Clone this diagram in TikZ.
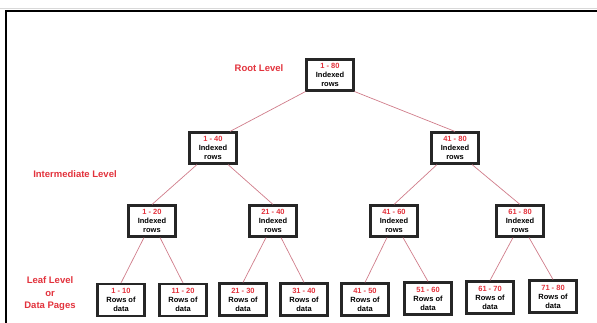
\documentclass[tikz,border=0pt]{standalone}
\usepackage{fontspec}
\setmainfont{Liberation Sans}
\definecolor{cred}{HTML}{E2323C}
\definecolor{clink}{HTML}{D07C8A}
\newcommand{\idxrows}[1]{\textcolor{cred}{#1}\\Indexed\\rows}
\newcommand{\datarows}[1]{\textcolor{cred}{#1}\\Rows of\\data}

\begin{document}
\begin{tikzpicture}[x=1pt, y=-1pt,
    box/.style={draw=black!85, line width=2.1pt, minimum width=47pt, minimum height=31pt,
        inner sep=0pt, align=center, font=\fontsize{7.5}{9}\selectfont\bfseries},
    leafbox/.style={box, minimum height=32pt},
    lvl/.style={text=cred, font=\fontsize{9.5}{12.5}\selectfont\bfseries, align=center},
    link/.style={draw=clink, line width=0.7pt},
]
\useasboundingbox (0,0) rectangle (597,323);

% Outer frame (runs off the right and bottom)
\draw[black!15, line width=0.5pt] (0,8) -- (597,8);
\draw[line width=2.4pt] (597,11) -- (6,11) -- (6,323);

% Level labels
\node[lvl] (lblroot) at (259,68) {Root Level};
\node[lvl] (lblmid) at (75,174) {Intermediate Level};
\node[lvl] (lblleaf) at (50,294) {Leaf Level\\or\\Data Pages};

% Root and intermediate nodes
\node[box] (root) at (330,75) {\idxrows{1 - 80}};
\node[box] (l1a) at (213,148) {\idxrows{1 - 40}};
\node[box] (l1b) at (455,148) {\idxrows{41 - 80}};
\node[box] (l2a) at (152,221) {\idxrows{1 - 20}};
\node[box] (l2b) at (273,221) {\idxrows{21 - 40}};
\node[box] (l2c) at (394,221) {\idxrows{41 - 60}};
\node[box] (l2d) at (520,221) {\idxrows{61 - 80}};

% Leaf nodes
\foreach \x/\y/\r [count=\i] in {121/300/1 - 10, 183/300/11 - 20, 243/299.5/21 - 30,
    304/299.5/31 - 40, 365/299.5/41 - 50, 428/298.5/51 - 60, 490/297.5/61 - 70,
    553/296.5/71 - 80} {
    \node[leafbox] (leaf\i) at (\x,\y) {\datarows{\r}};
}

% Links
\draw[link] (root.south west) -- ([xshift=17pt]l1a.north);
\draw[link] (root.south east) -- (l1b.north);
\foreach \p/\c/\s in {l1a/l2a/-16, l1a/l2b/15, l1b/l2c/-18, l1b/l2d/17} {
    \draw[link] ([xshift=\s pt]\p.south) -- (\c.north);
}
\foreach \p/\c/\s in {l2a/leaf1/-8, l2a/leaf2/8, l2b/leaf3/-7, l2b/leaf4/8,
    l2c/leaf5/-7, l2c/leaf6/9, l2d/leaf7/-7, l2d/leaf8/9} {
    \draw[link] ([xshift=\s pt]\p.south) -- (\c.north);
}

\end{tikzpicture}
\end{document}
